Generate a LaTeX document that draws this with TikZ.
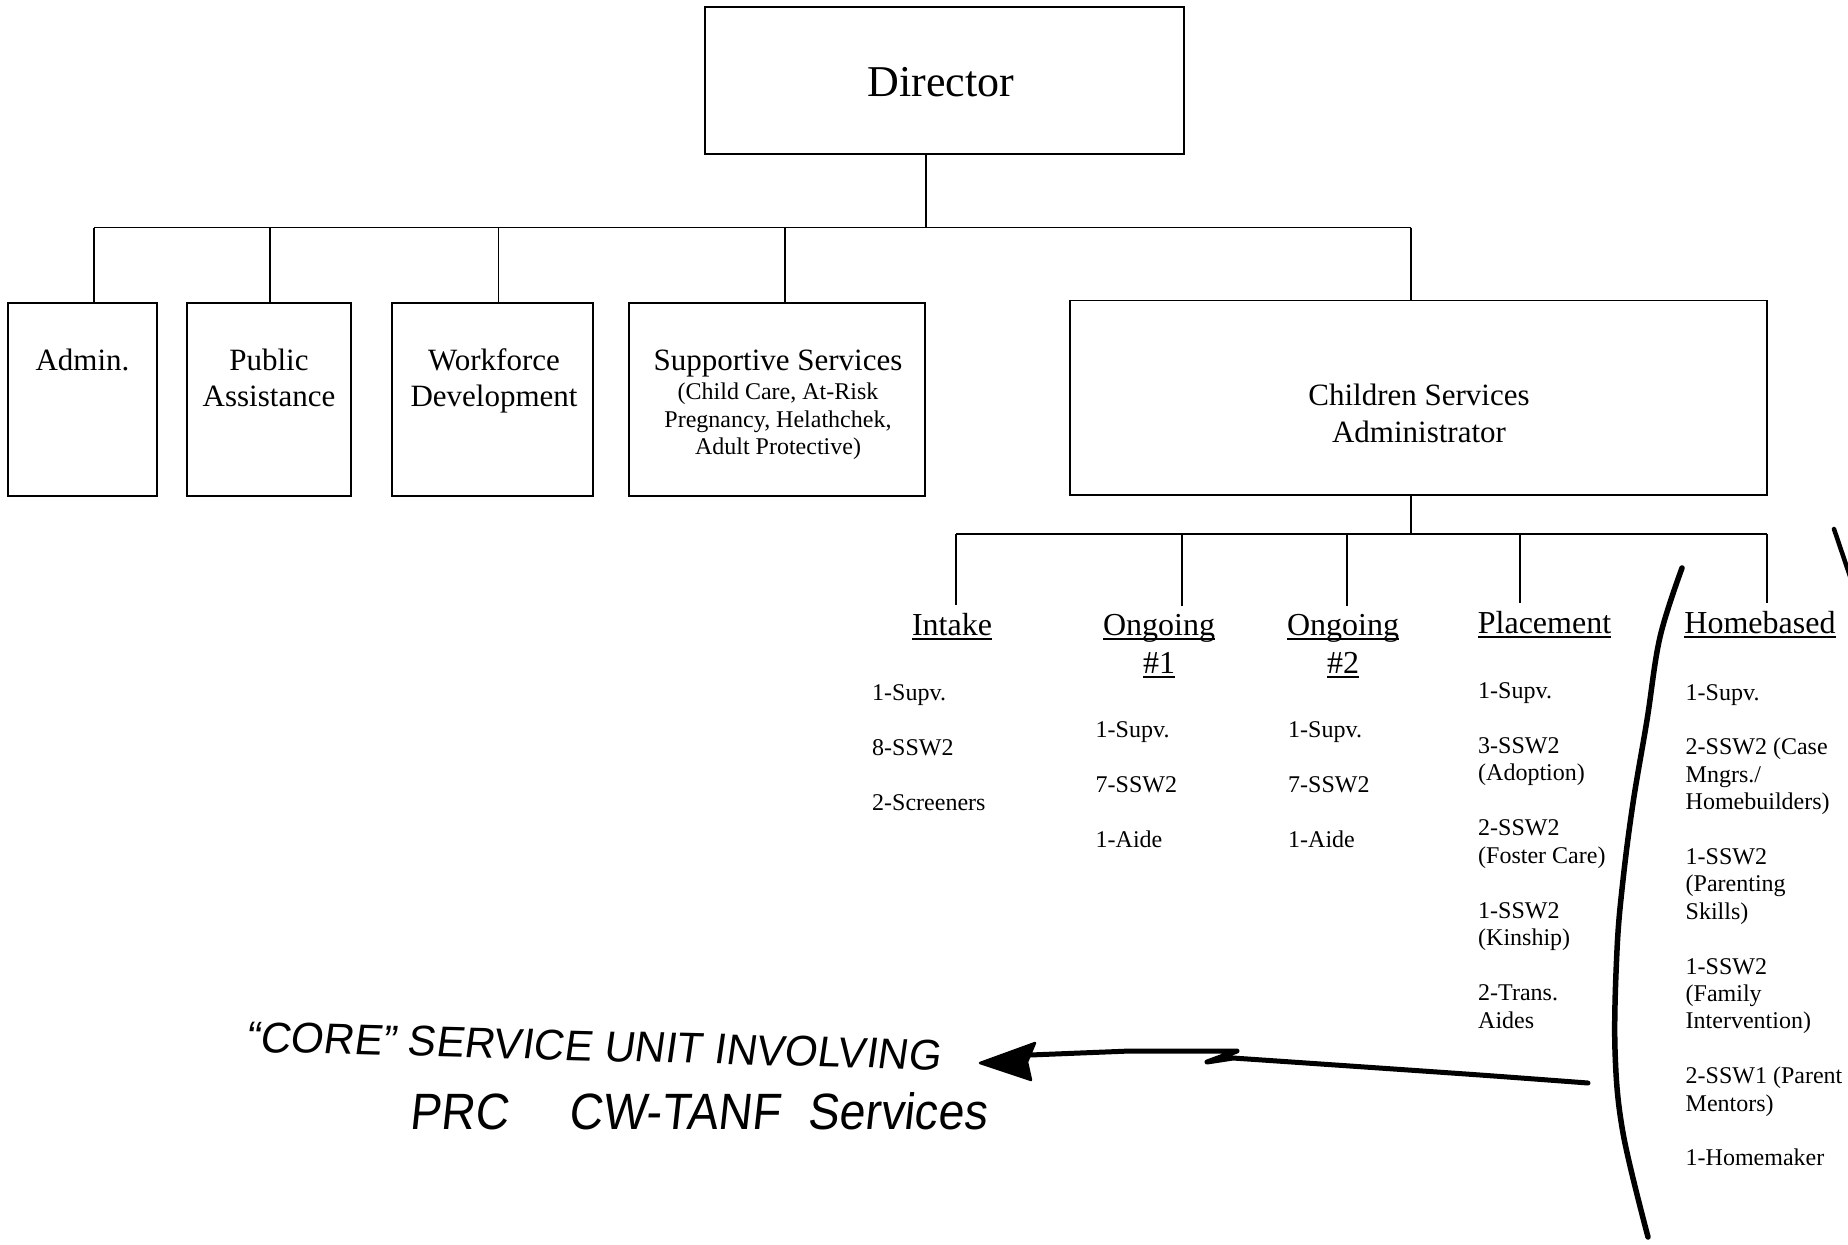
\documentclass[tikz,border=0pt]{standalone}
\usepackage{fontspec}
\usepackage{graphicx}
\setmainfont{Liberation Serif}
\newfontfamily\handfont[FakeSlant=0.12]{Liberation Sans}
\newcommand\ulin[1]{\setbox0=\hbox{#1}\rlap{\rule[-4.5pt]{\wd0}{1.6pt}}\box0}
\begin{document}
\begin{tikzpicture}[x=1pt,y=-1pt,
  box/.style={draw, line width=1.4pt, inner sep=0pt},
  lbl/.style={font=\fontsize{31}{36}\selectfont, inner sep=0pt, anchor=base},
  sml/.style={font=\fontsize{24}{27.5}\selectfont, inner sep=0pt, anchor=base},
  head/.style={font=\fontsize{32}{38}\selectfont, inner sep=0pt, anchor=base},
  item/.style={font=\fontsize{24}{27.5}\selectfont, inner sep=0pt, anchor=base west},
  conn/.style={line width=1.3pt},
  hand/.style={line width=5pt, line cap=round, line join=round},
  handtxt/.style={font=\handfont, inner sep=0pt}]
\useasboundingbox (0,0) rectangle (1848,1245);

% boxes
\node[box, minimum width=479pt, minimum height=147pt] (director) at (944.5,80.5) {};
\node[lbl, font=\fontsize{44}{50}\selectfont] (dirl) at (941,96) {Director};

\node[box, minimum width=149pt, minimum height=193pt] (admin) at (82.5,399.5) {};
\node[box, minimum width=164pt, minimum height=193pt] (public) at (269,399.5) {};
\node[box, minimum width=201pt, minimum height=193pt] (work) at (492.5,399.5) {};
\node[box, minimum width=296pt, minimum height=193pt] (supp) at (777,399.5) {};
\node[box, minimum width=697pt, minimum height=194.5pt] (child) at (1418.5,397.75) {};

\node[lbl] (adminl) at (82.5,370) {Admin.};
\node[lbl] (publ1) at (269,370) {Public};
\node[lbl] (publ2) at (269,406.5) {Assistance};
\node[lbl] (workl1) at (494,370) {Workforce};
\node[lbl] (workl2) at (494,406.5) {Development};
\node[lbl] (suppl) at (778,370) {Supportive Services};
\foreach \t [count=\i from 0] in {{(Child Care, At-Risk}, {Pregnancy, Helathchek,}, {Adult Protective)}}
  \node[sml] (sup\i) at (778,399.5+27.6*\i) {\t};
\node[lbl] (childl1) at (1419,405.5) {Children Services};
\node[lbl] (childl2) at (1419,442) {Administrator};

% upper connectors
\coordinate (trunk) at (926,227.5);
\coordinate (b1) at (94,227.5);
\coordinate (b2) at (270,227.5);
\coordinate (b3) at (498.5,227.5);
\coordinate (b4) at (785,227.5);
\coordinate (b5) at (1411,227.5);
\draw[conn] (trunk |- director.south) -- (trunk);
\draw[conn] (b1) -- (b5);
\draw[conn] (b1) -- (b1 |- admin.north);
\draw[conn] (b2) -- (b2 |- public.north);
\draw[conn] (b3) -- (b3 |- work.north);
\draw[conn] (b4) -- (b4 |- supp.north);
\draw[conn] (b5) -- (b5 |- child.north);

% unit headings
\node[head] (intake) at (952,635) {\ulin{Intake}};
\node[head] (og1) at (1159,635) {\ulin{Ongoing}};
\node[head] (og1n) at (1159,673) {\ulin{\#1}};
\node[head] (og2) at (1343,635) {\ulin{Ongoing}};
\node[head] (og2n) at (1343,673) {\ulin{\#2}};
\node[head] (place) at (1544.5,633) {\ulin{Placement}};
\node[head] (home) at (1760,633) {\ulin{Homebased}};

% lower connectors
\coordinate (cbus) at (1411,534);
\coordinate (l1) at (956,534);
\coordinate (l2) at (1182,534);
\coordinate (l3) at (1347,534);
\coordinate (l4) at (1520,534);
\coordinate (l5) at (1767,534);
\draw[conn] (cbus |- child.south) -- (cbus);
\draw[conn] (l1) -- (l5);
\draw[conn, shorten >=8pt] (l1) -- (l1 |- intake.north);
\draw[conn, shorten >=8pt] (l2) -- (l2 |- og1.north);
\draw[conn, shorten >=8pt] (l3) -- (l3 |- og2.north);
\draw[conn, shorten >=8pt] (l4) -- (l4 |- place.north);
\draw[conn, shorten >=8pt] (l5) -- (l5 |- home.north);

% staff lists
\foreach \k/\t in {0/1-Supv., 2/8-SSW2, 4/2-Screeners}
  \node[item] (in\k) at (872,700+27.5*\k) {\t};
\foreach \k/\t in {0/1-Supv., 2/7-SSW2, 4/1-Aide}
  \node[item] (oa\k) at (1095.5,737+27.5*\k) {\t};
\foreach \k/\t in {0/1-Supv., 2/7-SSW2, 4/1-Aide}
  \node[item] (ob\k) at (1288,737+27.5*\k) {\t};
\foreach \k/\t in {0/1-Supv., 2/3-SSW2, 3/(Adoption), 5/2-SSW2, 6/(Foster Care), 8/1-SSW2, 9/(Kinship), 11/2-Trans., 12/Aides}
  \node[item] (pl\k) at (1478,698+27.5*\k) {\t};
\foreach \k/\t in {0/1-Supv., 2/{2-SSW2 (Case}, 3/{Mngrs./}, 4/{Homebuilders)}, 6/1-SSW2, 7/(Parenting, 8/Skills), 10/1-SSW2, 11/(Family, 12/Intervention), 14/{2-SSW1 (Parent}, 15/Mentors), 17/1-Homemaker}
  \node[item] (hb\k) at (1685.5,700+27.4*\k) {\t};

% handwritten note
\node[handtxt, rotate=-1.5] (note1) at (593,1046) {\resizebox{695pt}{30pt}{“CORE” SERVICE UNIT INVOLVING}};
\node[handtxt] (note2) at (698,1111) {\resizebox{577pt}{37pt}{PRC\hspace{1.3em}CW-TANF\hspace{0.6em}Services}};

% handwritten arrow
\coordinate (arrtail) at (1588,1083);
\coordinate (arrtip) at (980,1063);
\draw[hand] plot[smooth, tension=0.5] coordinates {(arrtail) (1480,1075) (1350,1066) (1233,1058)}
  -- (1207,1062) -- (1237,1051) -- (1130,1051) -- (1030,1055);
\fill[line join=round, draw, line width=2.5pt] (arrtip) -- (1035,1043) -- (1027,1062) -- (1031,1080) -- cycle;

% handwritten bracket
\draw[hand, line width=5.5pt] plot[smooth, tension=0.6] coordinates {(1682,568) (1660,637) (1647,720) (1633,803) (1623,880) (1617,950) (1615,1050) (1623,1133) (1648,1237)};
\draw[hand, line width=4.5pt] (1834,529) -- (1858,600);
\end{tikzpicture}
\end{document}
